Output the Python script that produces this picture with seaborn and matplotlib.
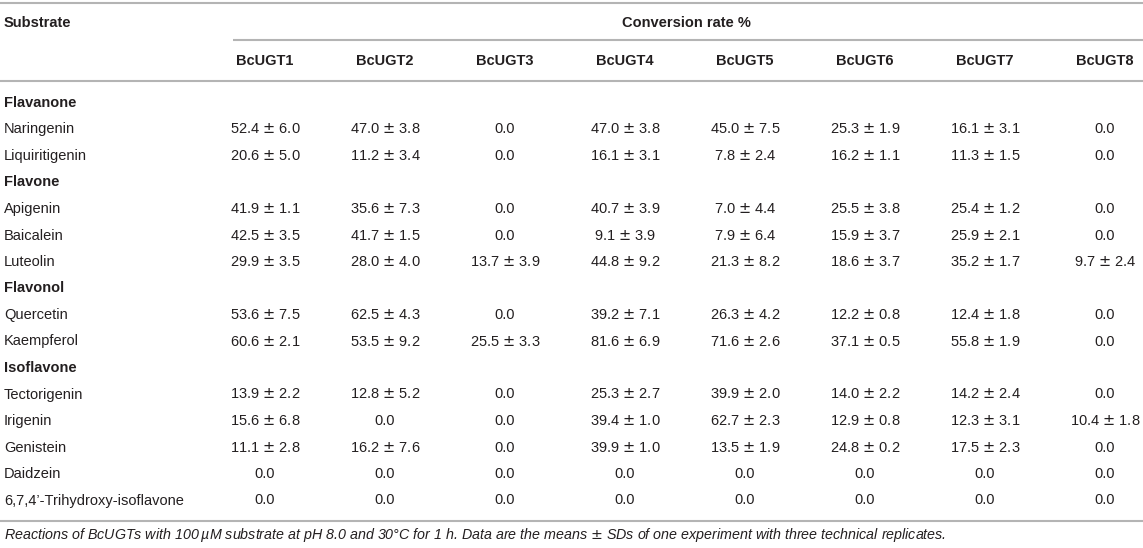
import matplotlib

matplotlib.use("Agg")

import matplotlib.pyplot as plt
import numpy as np
import seaborn as sns
from matplotlib.colors import ListedColormap

enzymes = ["BcUGT1", "BcUGT2", "BcUGT3", "BcUGT4", "BcUGT5", "BcUGT6", "BcUGT7", "BcUGT8"]

# substrate classes and the substrates listed under each
groups = ["Flavanone", "Flavone", "Flavonol", "Isoflavone"]
substrates = [
    ["Naringenin", "Liquiritigenin"],
    ["Apigenin", "Baicalein", "Luteolin"],
    ["Quercetin", "Kaempferol"],
    ["Tectorigenin", "Irigenin", "Genistein", "Daidzein", "6,7,4\u2019-Trihydroxy-isoflavone"],
]

# mean conversion rate (%) per substrate, one value per enzyme
means = {
    "Naringenin": [52.4, 47.0, 0.0, 47.0, 45.0, 25.3, 16.1, 0.0],
    "Liquiritigenin": [20.6, 11.2, 0.0, 16.1, 7.8, 16.2, 11.3, 0.0],
    "Apigenin": [41.9, 35.6, 0.0, 40.7, 7.0, 25.5, 25.4, 0.0],
    "Baicalein": [42.5, 41.7, 0.0, 9.1, 7.9, 15.9, 25.9, 0.0],
    "Luteolin": [29.9, 28.0, 13.7, 44.8, 21.3, 18.6, 35.2, 9.7],
    "Quercetin": [53.6, 62.5, 0.0, 39.2, 26.3, 12.2, 12.4, 0.0],
    "Kaempferol": [60.6, 53.5, 25.5, 81.6, 71.6, 37.1, 55.8, 0.0],
    "Tectorigenin": [13.9, 12.8, 0.0, 25.3, 39.9, 14.0, 14.2, 0.0],
    "Irigenin": [15.6, 0.0, 0.0, 39.4, 62.7, 12.9, 12.3, 10.4],
    "Genistein": [11.1, 16.2, 0.0, 39.9, 13.5, 24.8, 17.5, 0.0],
    "Daidzein": [0.0] * 8,
    "6,7,4\u2019-Trihydroxy-isoflavone": [0.0] * 8,
}

# standard deviations; None where no SD is given
sds = {
    "Naringenin": [6.0, 3.8, None, 3.8, 7.5, 1.9, 3.1, None],
    "Liquiritigenin": [5.0, 3.4, None, 3.1, 2.4, 1.1, 1.5, None],
    "Apigenin": [1.1, 7.3, None, 3.9, 4.4, 3.8, 1.2, None],
    "Baicalein": [3.5, 1.5, None, 3.9, 6.4, 3.7, 2.1, None],
    "Luteolin": [3.5, 4.0, 3.9, 9.2, 8.2, 3.7, 1.7, 2.4],
    "Quercetin": [7.5, 4.3, None, 7.1, 4.2, 0.8, 1.8, None],
    "Kaempferol": [2.1, 9.2, 3.3, 6.9, 2.6, 0.5, 1.9, None],
    "Tectorigenin": [2.2, 5.2, None, 2.7, 2.0, 2.2, 2.4, None],
    "Irigenin": [6.8, None, None, 1.0, 2.3, 0.8, 3.1, 1.8],
    "Genistein": [2.8, 7.6, None, 1.0, 1.9, 0.2, 2.3, None],
    "Daidzein": [None] * 8,
    "6,7,4\u2019-Trihydroxy-isoflavone": [None] * 8,
}

caption = (
    "Reactions of BcUGTs with 100\u2009\u00b5M substrate at pH 8.0 and 30\u00b0C for 1 h. "
    "Data are the means $\\pm$ SDs of one experiment with three technical replicates."
)

sns.set_theme(style="white")
plt.rcParams["font.family"] = ["Liberation Sans", "DejaVu Sans"]
plt.rcParams["mathtext.fontset"] = "dejavusans"

TEXT = "#231f20"
RULE = "#b4b4b4"
FS = 10.5
W, H = 1143, 548

# flatten into table rows
row_labels, row_is_group, cells = [], [], []
for group, names in zip(groups, substrates):
    row_labels.append(group)
    row_is_group.append(True)
    cells.append([""] * len(enzymes))
    for name in names:
        row_labels.append(name)
        row_is_group.append(False)
        cells.append([
            f"{m:.1f}" if s is None else f"{m:.1f} $\\pm$ {s:.1f}"
            for m, s in zip(means[name], sds[name])
        ])
cells = np.array(cells, dtype=object)

fig = plt.figure(figsize=(W / 100, H / 100), dpi=100)
ax = fig.add_axes([0, 0, 1, 1])
ax.set_xlim(0, W)
ax.set_ylim(H, 0)
ax.axis("off")

# horizontal rules
for y, x0 in [(3, 0), (40, 233), (81, 0), (521, 0)]:
    ax.plot([x0, W], [y, y], color=RULE, lw=1.5, solid_capstyle="butt")

ax.text(4, 23, "Substrate", fontsize=FS, fontweight="bold", color=TEXT, va="center")
ax.text(686, 23, "Conversion rate %", fontsize=FS, fontweight="bold", color=TEXT,
        va="center", ha="center")

row_top, row_h = 89.75, 26.5
col_left, col_w = 205, 120
for j, name in enumerate(enzymes):
    ax.text(col_left + col_w * (j + 0.5), 61, name, fontsize=FS, fontweight="bold",
            color=TEXT, va="center", ha="center")

for i, (label, is_group) in enumerate(zip(row_labels, row_is_group)):
    ax.text(4, row_top + row_h * (i + 0.5), label, fontsize=FS, color=TEXT, va="center",
            fontweight="bold" if is_group else "normal")

ax.text(4, 535, caption, fontsize=10.3, fontstyle="italic", color=TEXT, va="center")

# value grid as an annotated heatmap over the body area
hm_ax = fig.add_axes([
    col_left / W,
    1 - (row_top + row_h * len(row_labels)) / H,
    col_w * len(enzymes) / W,
    row_h * len(row_labels) / H,
])
sns.heatmap(
    np.zeros(cells.shape),
    ax=hm_ax,
    annot=cells,
    fmt="",
    cmap=ListedColormap(["white"]),
    cbar=False,
    linewidths=0,
    xticklabels=False,
    yticklabels=False,
    annot_kws={"fontsize": FS, "color": TEXT},
)
hm_ax.patch.set_alpha(0)

fig.savefig("out.png", dpi=100)
